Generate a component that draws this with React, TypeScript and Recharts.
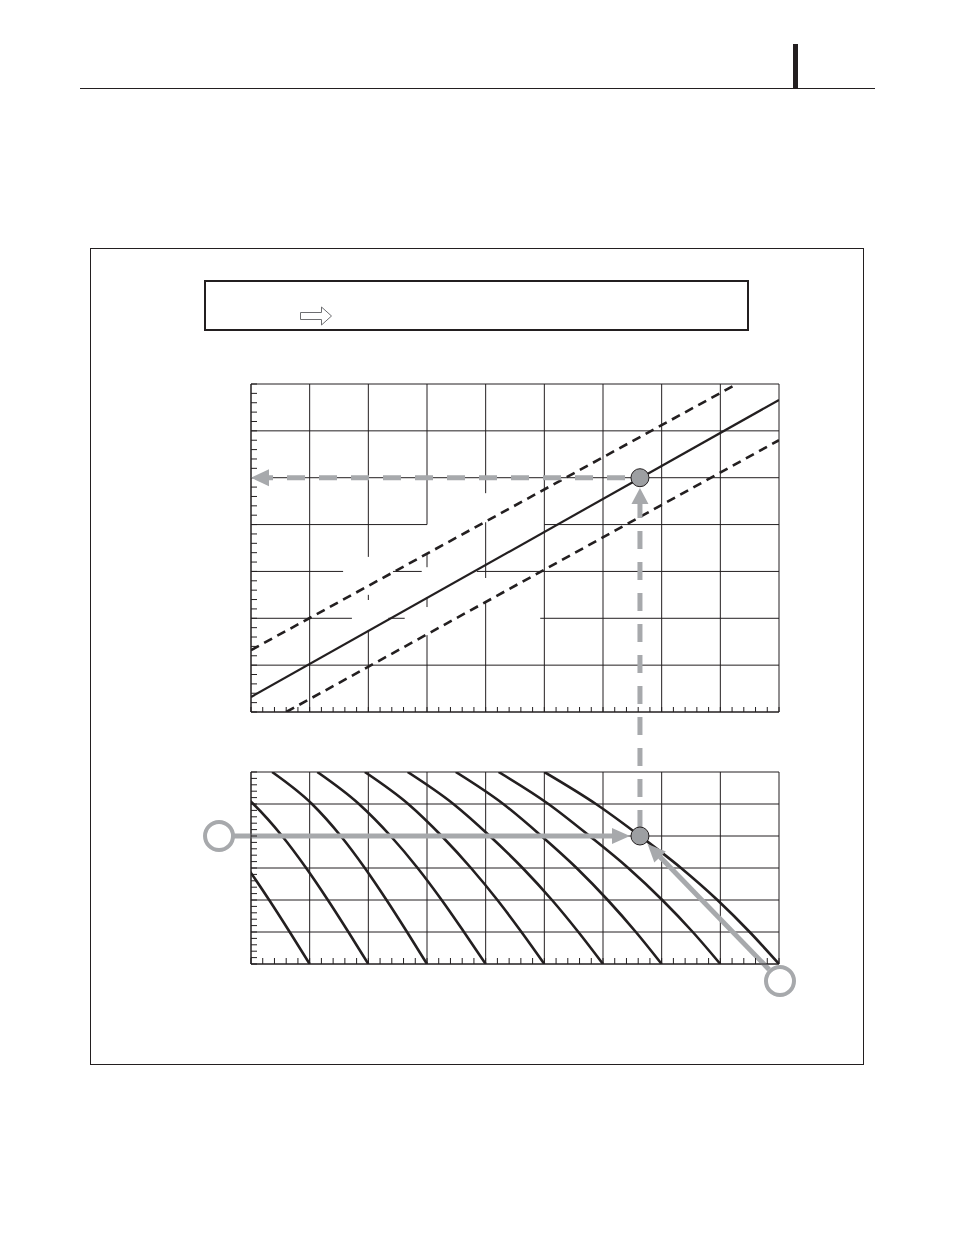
import {
  Line,
  LineChart,
  ReferenceDot,
  ReferenceLine,
  XAxis,
  YAxis,
} from "recharts";

const INK = "#231f20";
const GRAY = "#a7a9ac";
const DOT = "#9d9fa2";

// grid divisions (columns / rows of each panel)
const colLines = [0, 1, 2, 3, 4, 5, 6, 7, 8, 9];
const lowerRowLines = [0, 1, 2, 3, 4, 5, 6];

// upper panel grid, with the breaks left where labels used to sit
const upperVerticals = [
  { at: 0, from: 0, to: 7 },
  { at: 1, from: 0, to: 7 },
  { at: 2, from: 3.31, to: 7 },
  { at: 2, from: 2.39, to: 2.5 },
  { at: 2, from: 0, to: 1.75 },
  { at: 3, from: 4.0, to: 7 },
  { at: 3, from: 3.09, to: 3.39 },
  { at: 3, from: 2.24, to: 2.45 },
  { at: 3, from: 0, to: 1.64 },
  { at: 4, from: 4.67, to: 7 },
  { at: 4, from: 2.86, to: 4.05 },
  { at: 4, from: 0, to: 2.33 },
  { at: 5, from: 0, to: 7 },
  { at: 6, from: 0, to: 7 },
  { at: 7, from: 0, to: 7 },
  { at: 8, from: 0, to: 7 },
  { at: 9, from: 0, to: 7 },
];
const upperHorizontals = [
  { at: 0, from: 0, to: 9 },
  { at: 1, from: 0, to: 9 },
  { at: 2, from: 0, to: 1.72 },
  { at: 2, from: 2.34, to: 2.62 },
  { at: 2, from: 4.93, to: 9 },
  { at: 3, from: 0, to: 1.57 },
  { at: 3, from: 2.42, to: 2.91 },
  { at: 3, from: 3.85, to: 9 },
  { at: 4, from: 0, to: 3.0 },
  { at: 4, from: 5.0, to: 9 },
  { at: 5, from: 0, to: 9 },
  { at: 6, from: 0, to: 9 },
  { at: 7, from: 0, to: 9 },
];

// upper panel: centre line and the two dashed limits
const bandCenter = [
  { x: 0, y: 0.32 },
  { x: 9, y: 6.66 },
];
const bandUpper = [
  { x: 0, y: 1.32 },
  { x: 8.28, y: 7 },
];
const bandLower = [
  { x: 0.6, y: 0 },
  { x: 9, y: 5.8 },
];

// lower panel: family of curves, each ending on the bottom edge at curveEnds[i];
// curveOffsets[i][r] = how far left of that end the curve is at row r
const curveRows = [0, 1, 2, 3, 4, 5, 6];
const curveEnds = [1, 2, 3, 4, 5, 6, 7, 8, 9];
const curveOffsets = [
  [0, 0.34, 0.69, 1.06, 1.47, 1.96, 2.64],
  [0, 0.34, 0.69, 1.06, 1.47, 1.96, 2.64],
  [0, 0.34, 0.69, 1.06, 1.47, 1.96, 2.64],
  [0, 0.37, 0.75, 1.16, 1.62, 2.16, 2.87],
  [0, 0.39, 0.8, 1.25, 1.75, 2.32, 3.06],
  [0, 0.42, 0.87, 1.37, 1.93, 2.55, 3.33],
  [0, 0.44, 0.92, 1.45, 2.05, 2.7, 3.51],
  [0, 0.47, 0.99, 1.57, 2.23, 2.93, 3.78],
  [0, 0.5, 1.05, 1.67, 2.37, 3.12, 4.0],
];

// reading example
const readCol = 6.63;
const readUpperRow = 5;
const readLowerRow = 4;
const startCol = -0.545;
const cornerCol = 9.017;
const cornerRow = -0.53;

const steps = (max: number) =>
  Array.from({ length: Math.round(max * 5) + 1 }, (_, i) => i / 5);

const P = (v: number) => v - 8;

const curves = curveEnds.map((end, i) =>
  curveRows
    .map((r, k) => ({ x: end - curveOffsets[i][k], y: r }))
    .reverse()
);

const noLabel = () => <g />;

function arrowShape(dx: number, dy: number, len = 18, half = 8.5) {
  return (props: any) => {
    const { cx, cy } = props;
    const n = Math.hypot(dx, dy);
    const ux = dx / n;
    const uy = dy / n;
    const bx = cx - ux * len;
    const by = cy - uy * len;
    const px = -uy * half;
    const py = ux * half;
    return (
      <polygon
        points={`${cx},${cy} ${bx + px},${by + py} ${bx - px},${by - py}`}
        fill={GRAY}
      />
    );
  };
}

function UpperChart() {
  return (
    <LineChart width={600} height={380} margin={{ top: 24, left: 50, right: 21, bottom: 27 }}>
      <XAxis
        type="number"
        dataKey="x"
        domain={[0, 9]}
        ticks={steps(9)}
        interval={0}
        tick={noLabel}
        tickSize={-5}
        height={1}
        allowDataOverflow
        stroke={INK}
      />
      <YAxis
        type="number"
        dataKey="y"
        domain={[0, 7]}
        ticks={steps(7)}
        interval={0}
        tick={noLabel}
        tickSize={-6}
        width={1}
        allowDataOverflow
        stroke={INK}
      />
      {upperVerticals.map((g, i) => (
        <ReferenceLine
          key={`uv-${i}`}
          segment={[
            { x: g.at, y: g.from },
            { x: g.at, y: g.to },
          ]}
          stroke={INK}
          strokeWidth={1}
          ifOverflow="visible"
        />
      ))}
      {upperHorizontals.map((g, i) => (
        <ReferenceLine
          key={`uh-${i}`}
          segment={[
            { x: g.from, y: g.at },
            { x: g.to, y: g.at },
          ]}
          stroke={INK}
          strokeWidth={1}
          ifOverflow="visible"
        />
      ))}
      <Line data={bandCenter} dataKey="y" type="linear" stroke={INK} strokeWidth={2.2} dot={false} activeDot={false} isAnimationActive={false} />
      <Line data={bandUpper} dataKey="y" type="linear" stroke={INK} strokeWidth={2.6} strokeDasharray="9 6" dot={false} activeDot={false} isAnimationActive={false} />
      <Line data={bandLower} dataKey="y" type="linear" stroke={INK} strokeWidth={2.6} strokeDasharray="9 6" dot={false} activeDot={false} isAnimationActive={false} />
      <ReferenceLine
        segment={[
          { x: 0.29, y: readUpperRow },
          { x: readCol - 0.15, y: readUpperRow },
        ]}
        stroke={GRAY}
        strokeWidth={5}
        strokeDasharray="18 14"
        strokeDashoffset={13}
        ifOverflow="visible"
      />
      <ReferenceDot x={0} y={readUpperRow} ifOverflow="visible" shape={arrowShape(-1, 0)} />
      <ReferenceDot x={readCol} y={readUpperRow} r={9} fill={DOT} stroke={INK} strokeWidth={1} ifOverflow="visible" />
    </LineChart>
  );
}

function LowerChart() {
  return (
    <LineChart width={620} height={540} margin={{ top: 302, left: 50, right: 41, bottom: 45 }}>
      <XAxis
        type="number"
        dataKey="x"
        domain={[0, 9]}
        ticks={steps(9)}
        interval={0}
        tick={noLabel}
        tickSize={-6}
        height={1}
        allowDataOverflow
        stroke={INK}
      />
      <YAxis
        type="number"
        dataKey="y"
        domain={[0, 6]}
        ticks={steps(6)}
        interval={0}
        tick={noLabel}
        tickSize={-6}
        width={1}
        allowDataOverflow
        stroke={INK}
      />
      {colLines.map((c) => (
        <ReferenceLine key={`lv-${c}`} x={c} stroke={INK} strokeWidth={1} />
      ))}
      {lowerRowLines.map((r) => (
        <ReferenceLine key={`lh-${r}`} y={r} stroke={INK} strokeWidth={1} />
      ))}
      {curves.map((c, i) => (
        <Line
          key={`curve-${i}`}
          data={c}
          dataKey="y"
          type="monotone"
          stroke={INK}
          strokeWidth={2.6}
          dot={false}
          activeDot={false}
          isAnimationActive={false}
        />
      ))}
      {/* vertical dashed link up to the upper panel */}
      <ReferenceLine
        segment={[
          { x: readCol, y: 4.25 },
          { x: readCol, y: 14.4 },
        ]}
        stroke={GRAY}
        strokeWidth={5}
        strokeDasharray="18 13"
        ifOverflow="visible"
      />
      <ReferenceDot x={readCol} y={14.875} ifOverflow="visible" shape={arrowShape(0, -1, 16, 8.5)} />
      {/* horizontal entry line */}
      <ReferenceLine
        segment={[
          { x: -0.31, y: readLowerRow },
          { x: 6.17, y: readLowerRow },
        ]}
        stroke={GRAY}
        strokeWidth={5}
        ifOverflow="visible"
      />
      <ReferenceDot x={6.46} y={readLowerRow} ifOverflow="visible" shape={arrowShape(1, 0, 18, 8)} />
      <ReferenceDot x={startCol} y={readLowerRow} r={14} fill="#ffffff" stroke={GRAY} strokeWidth={4} ifOverflow="visible" />
      {/* diagonal entry line */}
      <ReferenceLine
        segment={[
          { x: 8.83, y: -0.17 },
          { x: 6.97, y: 3.35 },
        ]}
        stroke={GRAY}
        strokeWidth={5}
        ifOverflow="visible"
      />
      <ReferenceDot x={6.76} y={3.75} ifOverflow="visible" shape={arrowShape(-0.694, -0.719, 18, 8)} />
      <ReferenceDot x={cornerCol} y={cornerRow} r={14} fill="#ffffff" stroke={GRAY} strokeWidth={4} ifOverflow="visible" />
      <ReferenceDot x={readCol} y={readLowerRow} r={9} fill={DOT} stroke={INK} strokeWidth={1} ifOverflow="visible" />
    </LineChart>
  );
}

export default function App() {
  return (
    <div style={{ position: "relative", width: 946, height: 1227 }}>
      <div style={{ position: "absolute", left: P(80), top: P(88), width: 795, height: 1, background: INK }} />
      <div style={{ position: "absolute", left: P(793), top: P(44), width: 5, height: 45, background: INK }} />
      <div
        style={{
          position: "absolute",
          left: P(90),
          top: P(248),
          width: 774,
          height: 817,
          border: `1px solid ${INK}`,
          boxSizing: "border-box",
        }}
      />
      <div
        style={{
          position: "absolute",
          left: P(204),
          top: P(280),
          width: 545,
          height: 51,
          border: `2px solid ${INK}`,
          boxSizing: "border-box",
        }}
      />
      <svg style={{ position: "absolute", left: P(299), top: P(305) }} width={36} height={22}>
        <path d="M1.5 7.5 H22.5 V2 L32.5 11 L22.5 20 V14.5 H1.5 Z" fill="#ffffff" stroke="#6d6e71" strokeWidth={1} />
      </svg>
      <div style={{ position: "absolute", left: P(200), top: P(360) }}>
        <UpperChart />
      </div>
      <div style={{ position: "absolute", left: P(200), top: P(470) }}>
        <LowerChart />
      </div>
    </div>
  );
}
